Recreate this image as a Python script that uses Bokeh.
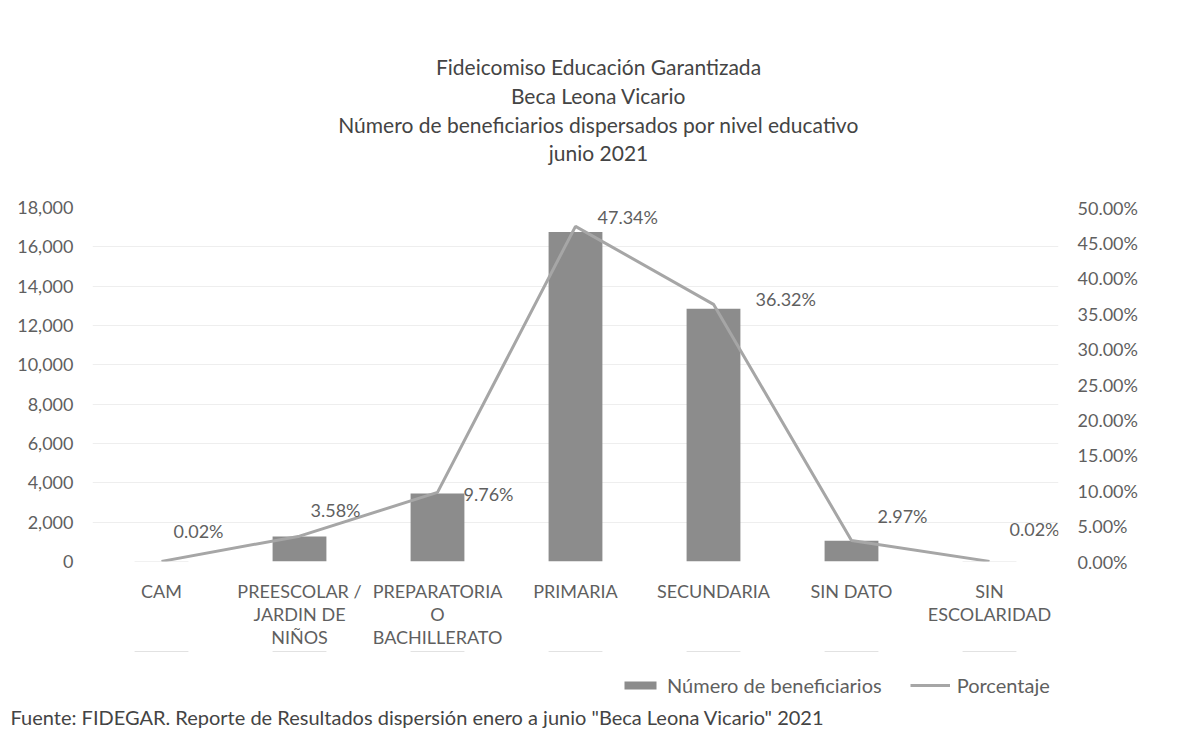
from bokeh.plotting import figure
from bokeh.layouts import column
from bokeh.models import (FactorRange, Range1d, LinearAxis, NumeralTickFormatter,
                          Label, Title, Legend, LegendItem, SingleIntervalTicker, ColumnDataSource)
from bokeh.core.properties import value
from bokeh.embed import file_html
from bokeh.resources import INLINE

# ---- data ----
categories = ["CAM", "PREESCOLAR /\nJARDIN DE\nNIÑOS", "PREPARATORIA\nO\nBACHILLERATO",
              "PRIMARIA", "SECUNDARIA", "SIN DATO", "SIN\nESCOLARIDAD"]
beneficiarios = [7, 1267, 3453, 16750, 12851, 1051, 7]
porcentaje = [0.0002, 0.0358, 0.0976, 0.4734, 0.3632, 0.0297, 0.0002]
pct_labels = ["0.02%", "3.58%", "9.76%", "47.34%", "36.32%", "2.97%", "0.02%"]

title_lines = ["Fideicomiso Educación Garantizada", "Beca Leona Vicario",
               "Número de beneficiarios dispersados por nivel educativo", "junio 2021"]
source_text = 'Fuente: FIDEGAR. Reporte de Resultados dispersión enero a junio "Beca Leona Vicario" 2021'

# ---- styles (label offsets in px) ----
lab_dx = [37, 36, 26, 22, 42, 26, 45]
lab_dy = [-30, -26, 2, -9, -5, -24, -32]
lab_align = ["center", "center", "left", "left", "left", "left", "center"]

FONT = "Lato"
TXT = "#5f5f5f"
DARK = "#444444"
BAR = "#8c8c8c"
LINE = "#a6a6a6"
W = 1181

# ---------- title strip (frame aligned with chart frame: x from 92 to 1058) ----------
top = figure(width=W, height=178, output_backend="svg", toolbar_location=None, title=None,
             x_axis_type=None, y_axis_type=None, min_border=0,
             x_range=Range1d(0, W), y_range=Range1d(0, 178))
top.outline_line_color = None
top.grid.visible = False
title_y = [112, 83, 54, 26]
for line_txt, ty in zip(title_lines, title_y):
    top.add_layout(Label(x=506, y=ty, x_units="screen", y_units="screen", text=line_txt,
                         text_align="center", text_baseline="middle", text_font=FONT,
                         text_font_size="21px", text_color=DARK))

# ---------- main chart ----------
p = figure(width=W, height=473, output_backend="svg", toolbar_location=None, title=None,
           x_range=FactorRange(factors=categories, range_padding=0),
           y_range=Range1d(0, 18000),
           min_border_left=92, min_border_right=123, min_border_top=29, min_border_bottom=90)
p.extra_y_ranges = {"pct": Range1d(0, 0.5)}
p.outline_line_color = None

p.yaxis.ticker = SingleIntervalTicker(interval=2000)
p.yaxis.formatter = NumeralTickFormatter(format="0,0")
right = LinearAxis(y_range_name="pct", ticker=SingleIntervalTicker(interval=0.05),
                   formatter=NumeralTickFormatter(format="0.00%"))
p.add_layout(right, "right")
for ax in [p.yaxis[0], right, p.xaxis[0]]:
    ax.axis_line_color = None
    ax.major_tick_line_color = None
    ax.minor_tick_line_color = None
    ax.major_label_text_font = FONT
    ax.major_label_text_font_size = "18px"
    ax.major_label_text_color = TXT
p.yaxis[0].major_label_standoff = 13
right.major_label_standoff = 13
right.major_label_text_align = "left"
p.xaxis[0].major_label_standoff = 12
p.xaxis[0].major_label_text_line_height = 1.05
p.xgrid.grid_line_color = None
p.ygrid.grid_line_color = "#eeeeee"

src = ColumnDataSource(dict(x=categories, b=beneficiarios, pc=porcentaje, lab=pct_labels,
                            dx=lab_dx, dy=lab_dy, al=lab_align))
p.vbar(x="x", top="b", width=0.39, source=src, fill_color=BAR, line_color=None)
p.line(x="x", y="pc", source=src, y_range_name="pct", line_color=LINE, line_width=3)
p.text(x="x", y="pc", text="lab", source=src, y_range_name="pct",
       x_offset="dx", y_offset="dy", text_align="al", text_baseline="middle",
       text_font=value(FONT), text_font_size="18px", text_color=TXT)

# ---------- legend + source strip ----------
# legend renderers share the chart's data but sit on ranges that put them above this strip
bot = figure(width=W, height=77, output_backend="svg", toolbar_location=None, title=None,
             x_axis_type=None, y_axis_type=None, min_border=0,
             x_range=FactorRange(factors=categories, range_padding=0),
             y_range=Range1d(-60000, -30000))
bot.outline_line_color = None
bot.grid.visible = False
bot.extra_y_ranges = {"hidp": Range1d(-1, -0.5)}
lb = bot.vbar(x=categories, top=beneficiarios, width=0.39, fill_color=BAR, line_color=None)
ll = bot.line(x=categories, y=porcentaje, y_range_name="hidp", line_color=LINE, line_width=3)
legend = Legend(items=[LegendItem(label="Número de beneficiarios", renderers=[lb]),
                       LegendItem(label="Porcentaje", renderers=[ll])],
                orientation="horizontal", location=(528, 5),
                label_text_font=FONT, label_text_font_size="20px", label_text_color=TXT,
                border_line_color=None, background_fill_alpha=0, spacing=28,
                glyph_width=40, glyph_height=10, label_standoff=7, padding=0, margin=0)
bot.add_layout(legend, "center")
bot.add_layout(Title(text=source_text, align="left", offset=-82, standoff=0,
                     text_font=FONT, text_font_size="20px", text_font_style="normal",
                     text_color=DARK), "below")

layout = column(top, p, bot, spacing=0)
open("out.html", "w").write(file_html(layout, INLINE))
